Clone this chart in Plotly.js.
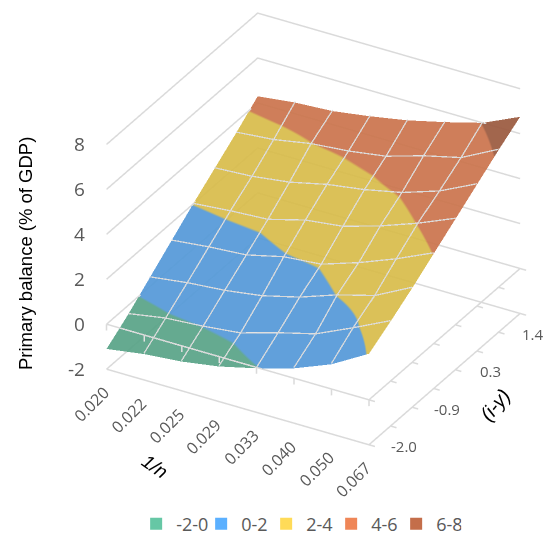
<!DOCTYPE html>
<html>
<head>
<meta charset="utf-8">
<script src="https://cdn.plot.ly/plotly-3.0.1.min.js"></script>
<style>html,body{margin:0;padding:0;background:#fff;overflow:hidden}#chart{width:543px;height:535px;overflow:hidden}</style>
</head>
<body>
<div id="chart"></div>
<script>
var xLabels = ["0.020","0.022","0.025","0.029","0.033","0.040","0.050","0.067"];
var yLabels = ["-2.0","","-0.9","","0.3","","1.4",""];
var zTicks = [-2,0,2,4,6,8];
var bandNames = ["-2-0","0-2","2-4","4-6","6-8"];
var bandColors = ["#5fae90","#5aa3e6","#e6c850","#d87c52","#a56044"];
var legendColors = ["#66c7a5","#5bb0ff","#ffdb58","#ef8657","#c46e4a"];
var balance = [
 [-1.1,-0.85,-0.7,-0.44,-0.04,0.44,1.1,2.05],
 [-0.4,-0.12,0.0,0.18,0.67,1.1,1.85,2.65],
 [0.4,0.62,0.76,1.0,1.42,2.0,2.45,3.3],
 [1.2,1.38,1.5,1.9,2.05,2.6,3.25,4.0],
 [2.0,2.15,2.25,2.7,2.9,3.4,4.0,4.7],
 [2.75,2.85,3.07,3.45,3.7,4.05,4.6,5.4],
 [3.5,3.65,3.95,4.1,4.35,4.85,5.25,6.1],
 [4.3,4.5,4.6,4.85,5.15,5.55,6.0,6.75]
];
var xIdx = xLabels.map(function(_,i){return i;});
var yIdx = yLabels.map(function(_,i){return i;});
var xMax = xIdx.length-1, yMax = yIdx.length-1;
var GRID = "#dadada";
var MESH = "#d9d9d9";
var H = 551;

var colorscale = [];
bandColors.forEach(function(c,i){
  colorscale.push([i/5,c]);
  colorscale.push([(i+1)/5,c]);
});

function line(xs,ys,zs,color,width){
  return {type:"scatter3d",mode:"lines",x:xs,y:ys,z:zs,
    line:{color:color||GRID,width:width||3},showlegend:false,hoverinfo:"skip"};
}
var tickXx=[],tickXy=[],tickXz=[];
xIdx.forEach(function(i){tickXx.push(i,i,null);tickXy.push(0,0,null);tickXz.push(0,-0.28,null);});
var tickYx=[],tickYy=[],tickYz=[];
[0,-2].forEach(function(z){
  yIdx.forEach(function(j){tickYx.push(xMax,xMax+0.16,null);tickYy.push(j,j,null);tickYz.push(z,z,null);});
});
var wallX=[],wallY=[],wallZ=[];
zTicks.forEach(function(z){wallX.push(0,0,xMax,null);wallY.push(0,yMax,yMax,null);wallZ.push(z,z,z,null);});

var meshX=[],meshY=[],meshZ=[];
for(var m=1;m<xMax;m++){
  yIdx.forEach(function(j){meshX.push(m);meshY.push(j);meshZ.push(balance[j][m]+0.04);});
  meshX.push(null);meshY.push(null);meshZ.push(null);
}
for(var n=1;n<yMax;n++){
  xIdx.forEach(function(i){meshX.push(i);meshY.push(n);meshZ.push(balance[n][i]+0.04);});
  meshX.push(null);meshY.push(null);meshZ.push(null);
}

var traces = [
  line(wallX,wallY,wallZ),
  line([0,xMax,xMax],[0,0,yMax],[-2,-2,-2]),
  line([0,xMax,xMax],[0,0,yMax],[0,0,0]),
  line(tickXx,tickXy,tickXz),
  line(tickYx,tickYy,tickYz),
  {type:"surface",x:xIdx,y:yIdx,z:balance,cmin:-2,cmax:8,colorscale:colorscale,
   showscale:false,opacity:0.93,hoverinfo:"skip",
   lighting:{ambient:0.94,diffuse:0.4,specular:0,roughness:1,fresnel:0},
   lightposition:{x:1000,y:0,z:500},
   contours:{x:{show:false},y:{show:false},z:{show:false}}},
  line(meshX,meshY,meshZ,MESH,2.5)
];
bandNames.forEach(function(n,i){
  traces.push({type:"scatter3d",mode:"markers",x:[null],y:[null],z:[null],name:n,
    marker:{symbol:"square",size:12,color:legendColors[i]},showlegend:true,hoverinfo:"skip"});
});

var anns = [];
var gray = "#595959";
xLabels.forEach(function(t,i){
  anns.push({x:i,y:0,z:-2,text:t,showarrow:false,textangle:-45,xanchor:"center",yanchor:"middle",
    xshift:-15,yshift:-35,font:{family:"Open Sans",size:16,color:gray}});
});
yLabels.forEach(function(t,j){
  if(t) anns.push({x:xMax,y:j,z:-2,text:t,showarrow:false,xanchor:"center",yanchor:"middle",
    xshift:35,yshift:-2,font:{family:"Open Sans",size:15,color:gray}});
});
zTicks.forEach(function(v){
  anns.push({x:0,y:0,z:v,text:String(v),showarrow:false,xanchor:"right",yanchor:"middle",
    xshift:-19,yshift:0,font:{family:"Open Sans",size:19,color:gray}});
});

var layout = {
  width:543,height:H,margin:{l:0,r:0,t:0,b:0},paper_bgcolor:"#fff",
  showlegend:true,
  legend:{orientation:"h",x:0.55,xanchor:"center",y:1-524/H,yanchor:"middle",
    font:{family:"Open Sans",size:18,color:gray},entrywidth:20,entrywidthmode:"pixels"},
  scene:{
    domain:{x:[0.16,1],y:[1-469.7/H,1]},
    aspectmode:"manual",aspectratio:{x:1.329,y:1.296,z:1.109},
    camera:{eye:{x:1.4171,y:-2.475,z:1.6232},up:{x:0,y:0,z:1},center:{x:-0.0009,y:-0.013,z:-0.0188},
      projection:{type:"orthographic"}},
    xaxis:{range:[-0.02,xMax+0.2],showgrid:false,showticklabels:false,ticks:"",zeroline:false,showline:false,showbackground:false,showspikes:false,title:{text:""}},
    yaxis:{range:[-0.02,yMax+0.02],showgrid:false,showticklabels:false,ticks:"",zeroline:false,showline:false,showbackground:false,showspikes:false,title:{text:""}},
    zaxis:{range:[-2.02,8.02],tick0:-2,dtick:2,showgrid:false,showticklabels:false,ticks:"",zeroline:false,showline:false,showbackground:false,showspikes:false,title:{text:""}},
    annotations:anns
  },
  annotations:[
    {xref:"paper",yref:"paper",x:26/543,y:1-254/H,xanchor:"center",yanchor:"middle",text:"Primary balance (% of GDP)",textangle:-90,showarrow:false,
     font:{family:"Liberation Sans",size:18.5,color:"#000"}},
    {xref:"paper",yref:"paper",x:155/543,y:1-466/H,xanchor:"center",yanchor:"middle",text:"<i>1/n</i>",textangle:35,showarrow:false,
     font:{family:"Liberation Sans",size:19,color:"#000"}},
    {xref:"paper",yref:"paper",x:495/543,y:1-405/H,xanchor:"center",yanchor:"middle",text:"<i>(i-y)</i>",textangle:-50,showarrow:false,
     font:{family:"Liberation Sans",size:20,color:"#000"}}
  ]
};
Plotly.newPlot("chart",traces,layout,{displayModeBar:false});
</script>
</body>
</html>
